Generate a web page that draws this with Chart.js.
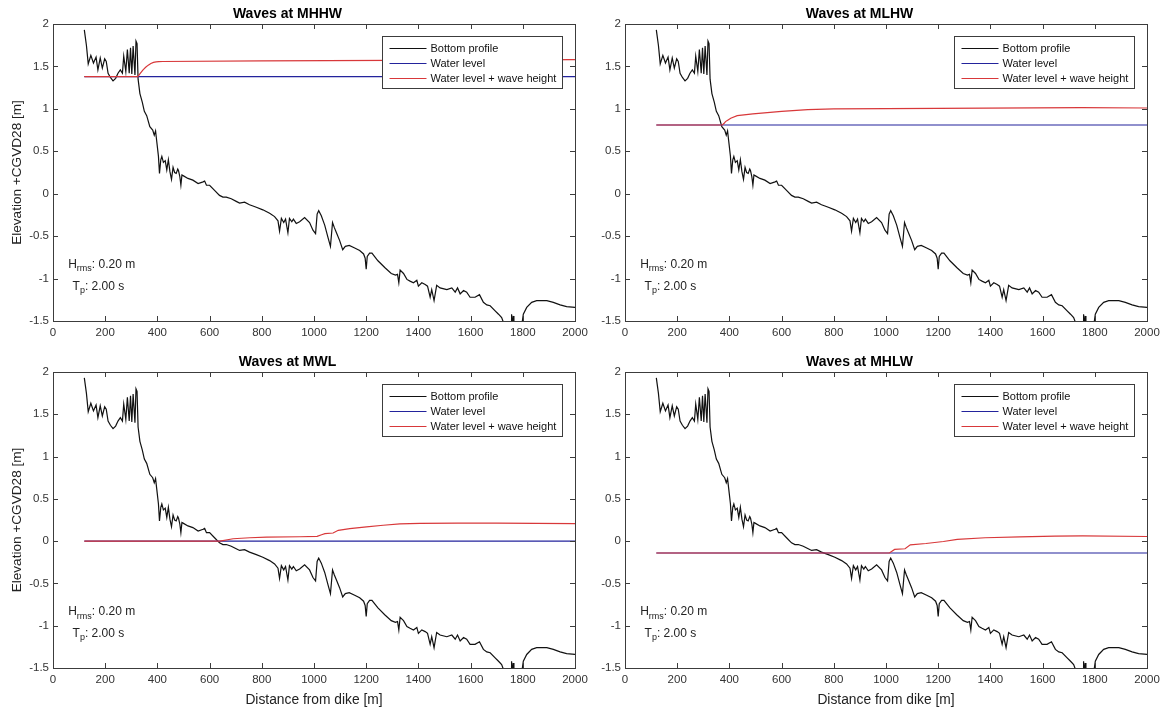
<!DOCTYPE html>
<html>
<head>
<meta charset="utf-8">
<script src="https://cdn.jsdelivr.net/npm/chart.js@4.4.0/dist/chart.umd.min.js"></script>
<style>
body { margin: 0; background: #fff; width: 1163px; height: 711px; overflow: hidden; position: relative; }
canvas { position: absolute; }
</style>
</head>
<body>
<canvas id="c0" width="591" height="341" style="left:0px;top:0px"></canvas>
<canvas id="c1" width="591" height="341" style="left:572px;top:0px"></canvas>
<canvas id="c2" width="591" height="363" style="left:0px;top:348px"></canvas>
<canvas id="c3" width="591" height="363" style="left:572px;top:348px"></canvas>
<script>
console.log("Waves loaded");

/* DATA */
const titles = ['Waves at MHHW', 'Waves at MLHW', 'Waves at MWL', 'Waves at MHLW'];
const seriesNames = ['Bottom profile', 'Water level', 'Water level + wave height'];
const waterLevels = [1.38, 0.81, 0, -0.14];
const levelX = [120, 2000];
const Hrms = 0.20;
const Tp = 2.00;

const profileX = [120, 128, 135, 145, 155, 165, 172, 181, 189, 198, 204, 211, 220, 230, 240, 249, 258, 266, 271, 279,
  285, 292, 297, 302, 307, 314, 318, 322, 326, 333, 342, 350, 359, 371, 382, 388, 393, 397, 404, 408,
  413, 417, 423, 430, 436, 442, 448, 454, 460, 466, 472, 478, 481, 486, 490, 494, 500, 517, 536, 556,
  575, 581, 588, 600, 619, 638, 651, 664, 683, 702, 715, 734, 753, 779, 804, 830, 849, 862, 868, 875,
  884, 891, 900, 906, 915, 921, 932, 945, 964, 983, 996, 1006, 1012, 1018, 1028, 1041, 1054, 1063, 1071, 1078,
  1086, 1098, 1110, 1120, 1135, 1156, 1175, 1190, 1196, 1200, 1204, 1213, 1222, 1245, 1271, 1296, 1312, 1320, 1325, 1330,
  1343, 1356, 1368, 1381, 1394, 1400, 1413, 1426, 1435, 1445, 1451, 1460, 1470, 1483, 1509, 1528, 1541, 1550, 1560, 1573,
  1585, 1598, 1617, 1634, 1649, 1662, 1675, 1694, 1707, 1719, 1730, 1745, 1755, 1757, 1760, 1763, 1766, 1780, 1796, 1802,
  1815, 1834, 1853, 1872, 1892, 1917, 1943, 1968, 2000];
const profileY = [1.93, 1.75, 1.53, 1.63, 1.54, 1.61, 1.46, 1.60, 1.48, 1.59, 1.56, 1.42, 1.37, 1.33, 1.36, 1.42, 1.46, 1.42, 1.62, 1.44,
  1.70, 1.42, 1.72, 1.41, 1.74, 1.40, 1.80, 1.77, 1.35, 1.18, 1.08, 0.97, 0.92, 0.79, 0.75, 0.69, 0.74, 0.63, 0.44, 0.24,
  0.40, 0.44, 0.37, 0.39, 0.28, 0.40, 0.26, 0.17, 0.31, 0.25, 0.24, 0.29, 0.27, 0.20, 0.10, 0.22, 0.21, 0.18, 0.16, 0.12,
  0.14, 0.15, 0.10, 0.10, 0.04, -0.02, -0.04, -0.04, -0.06, -0.09, -0.11, -0.10, -0.13, -0.16, -0.19, -0.23, -0.27, -0.32, -0.44, -0.29,
  -0.34, -0.30, -0.46, -0.29, -0.33, -0.30, -0.35, -0.33, -0.28, -0.34, -0.43, -0.47, -0.24, -0.20, -0.26, -0.37, -0.52, -0.62, -0.34, -0.40,
  -0.46, -0.55, -0.66, -0.62, -0.61, -0.64, -0.67, -0.71, -0.76, -0.89, -0.74, -0.70, -0.70, -0.79, -0.87, -0.94, -0.96, -0.95, -1.05, -0.90,
  -0.94, -1.01, -1.03, -1.05, -1.02, -1.09, -1.05, -1.07, -1.09, -1.22, -1.13, -1.26, -1.08, -1.11, -1.13, -1.11, -1.16, -1.11, -1.18, -1.14,
  -1.16, -1.22, -1.22, -1.19, -1.28, -1.31, -1.32, -1.38, -1.42, -1.46, -1.55, -1.62, -1.60, -1.42, -1.60, -1.44, -1.62, -1.66, -1.55, -1.42,
  -1.34, -1.28, -1.26, -1.26, -1.26, -1.28, -1.31, -1.33, -1.34];

const waveX_MHHW = [120, 325, 330, 335, 345, 355, 365, 375, 385, 395, 405, 420, 800, 1300, 2000];
const waveY_MHHW = [1.38, 1.38, 1.40, 1.42, 1.46, 1.49, 1.515, 1.535, 1.548, 1.553, 1.556, 1.558, 1.565, 1.572, 1.58];
const waveX_MLHW = [120, 373, 380, 385, 395, 405, 430, 490, 600, 700, 800, 1200, 1750, 2000];
const waveY_MLHW = [0.81, 0.81, 0.83, 0.85, 0.87, 0.89, 0.92, 0.94, 0.97, 0.99, 1.0, 1.005, 1.015, 1.01];
const waveX_MWL = [120, 640, 690, 754, 818, 946, 1012, 1029, 1042, 1073, 1093, 1137, 1201, 1265, 1329, 1406, 1550, 1700, 2000];
const waveY_MWL = [0, 0, 0.028, 0.04, 0.048, 0.052, 0.056, 0.076, 0.088, 0.096, 0.128, 0.148, 0.168, 0.188, 0.204, 0.21, 0.212, 0.214, 0.208];
const waveX_MHLW = [120, 1013, 1033, 1073, 1093, 1153, 1220, 1273, 1380, 1513, 1647, 1753, 2000];
const waveY_MHLW = [-0.14, -0.14, -0.098, -0.09, -0.043, -0.028, -0.004, 0.02, 0.04, 0.05, 0.06, 0.063, 0.055];

const waveX = [waveX_MHHW, waveX_MLHW, waveX_MWL, waveX_MHLW];
const waveY = [waveY_MHHW, waveY_MLHW, waveY_MWL, waveY_MHLW];

/* STYLE */
const FONT = '"Liberation Sans", Arial, Helvetica, sans-serif';
const colors = ['#111111', '#23239c', '#d8383a'];
const axisColor = '#3c3c3c';

const toPts = (xs, ys) => xs.map((x, i) => ({ x: x, y: ys[i] }));

/* box with inner ticks on all four sides, like matlab */
const axisBox = {
    id: 'axisBox',
    afterDatasetsDraw(chart) {
        const { ctx, chartArea: a, scales: { x, y } } = chart;
        ctx.save();
        ctx.strokeStyle = axisColor;
        ctx.lineWidth = 1;
        ctx.beginPath();
        x.ticks.forEach(t => {
            const px = Math.round(x.getPixelForValue(t.value)) + 0.5;
            ctx.moveTo(px, a.bottom); ctx.lineTo(px, a.bottom - 5);
            ctx.moveTo(px, a.top); ctx.lineTo(px, a.top + 5);
        });
        y.ticks.forEach(t => {
            const py = Math.round(y.getPixelForValue(t.value)) + 0.5;
            ctx.moveTo(a.left, py); ctx.lineTo(a.left + 5, py);
            ctx.moveTo(a.right, py); ctx.lineTo(a.right - 5, py);
        });
        ctx.stroke();
        ctx.strokeRect(Math.round(a.left) + 0.5, Math.round(a.top) + 0.5,
            Math.round(a.right - a.left), Math.round(a.bottom - a.top));
        ctx.restore();
    }
};

/* H_rms / T_p text */
const infoText = {
    id: 'infoText',
    afterDatasetsDraw(chart) {
        const { ctx, scales: { x, y } } = chart;
        const line = (base, sub, rest, vx, vy) => {
            let px = x.getPixelForValue(vx);
            const py = y.getPixelForValue(vy);
            ctx.font = '12px ' + FONT;
            ctx.fillText(base, px, py);
            px += ctx.measureText(base).width;
            ctx.font = '9px ' + FONT;
            ctx.fillText(sub, px, py + 4);
            px += ctx.measureText(sub).width;
            ctx.font = '12px ' + FONT;
            ctx.fillText(rest, px, py);
        };
        ctx.save();
        ctx.fillStyle = '#222';
        ctx.textBaseline = 'middle';
        line('H', 'rms', ': ' + Hrms.toFixed(2) + ' m', 58, -0.84);
        line('T', 'p', ': ' + Tp.toFixed(2) + ' s', 75, -1.09);
        ctx.restore();
    }
};

/* legend box in the top right corner of the axes */
const boxLegend = {
    id: 'boxLegend',
    afterDraw(chart) {
        const { ctx, chartArea: a } = chart;
        const w = 180, h = 52;
        const bx = Math.round(a.right - 13 - w) + 0.5;
        const by = Math.round(a.top + 12) + 0.5;
        ctx.save();
        ctx.fillStyle = '#fff';
        ctx.fillRect(bx, by, w, h);
        ctx.strokeStyle = axisColor;
        ctx.lineWidth = 1;
        ctx.strokeRect(bx, by, w, h);
        ctx.font = '11px ' + FONT;
        ctx.textBaseline = 'middle';
        chart.data.datasets.forEach((ds, i) => {
            const ly = Math.round(by + 12 + i * 15) - 0.5;
            ctx.strokeStyle = ds.borderColor;
            ctx.beginPath();
            ctx.moveTo(bx + 7, ly);
            ctx.lineTo(bx + 44, ly);
            ctx.stroke();
            ctx.fillStyle = '#111';
            ctx.fillText(ds.label, bx + 48, ly);
        });
        ctx.restore();
    }
};

function makeChart(idx) {
    const isLeft = idx % 2 === 0;
    const isBottom = idx >= 2;
    const ctx = document.getElementById('c' + idx).getContext('2d');

    new Chart(ctx, {
        type: 'scatter',
        data: {
            datasets: [{
                label: seriesNames[0],
                data: toPts(profileX, profileY),
                borderColor: colors[0],
                borderWidth: 1.2,
                order: 3
            }, {
                label: seriesNames[1],
                data: toPts(levelX, [waterLevels[idx], waterLevels[idx]]),
                borderColor: colors[1],
                borderWidth: 1.2,
                order: 2
            }, {
                label: seriesNames[2],
                data: toPts(waveX[idx], waveY[idx]),
                borderColor: colors[2],
                borderWidth: 1.2,
                order: 1
            }].map(ds => Object.assign(ds, { showLine: true, pointRadius: 0, tension: 0, backgroundColor: ds.borderColor }))
        },
        options: {
            responsive: false,
            animation: false,
            events: [],
            layout: { padding: { left: 0, right: 16, top: 0, bottom: 0 } },
            scales: {
                x: {
                    type: 'linear',
                    min: 0,
                    max: 2000,
                    grid: { display: false, drawTicks: false },
                    border: { display: false },
                    ticks: {
                        stepSize: 200,
                        padding: 5,
                        maxRotation: 0,
                        autoSkip: false,
                        color: '#333',
                        font: { family: FONT, size: 11.5 },
                        callback: v => String(v)
                    },
                    title: {
                        display: isBottom,
                        text: 'Distance from dike [m]',
                        color: '#222',
                        font: { family: FONT, size: 13.8 },
                        padding: { top: 0, bottom: 3 }
                    },
                    afterFit: s => {
                        s.height = isBottom ? 43 : 20;
                        s.paddingLeft = 0;
                        s.paddingRight = 0;
                    }
                },
                y: {
                    type: 'linear',
                    min: -1.5,
                    max: 2,
                    grid: { display: false, drawTicks: false },
                    border: { display: false },
                    ticks: {
                        stepSize: 0.5,
                        padding: 4,
                        color: '#333',
                        font: { family: FONT, size: 11.5 },
                        callback: v => String(Math.round(v * 10) / 10)
                    },
                    title: {
                        display: isLeft,
                        text: 'Elevation +CGVD28 [m]',
                        color: '#222',
                        font: { family: FONT, size: 13.6 },
                        padding: { top: 9, bottom: 0 }
                    },
                    afterFit: s => {
                        s.width = 53;
                        s.paddingTop = 0;
                        s.paddingBottom = 0;
                    }
                }
            },
            plugins: {
                legend: { display: false },
                tooltip: { enabled: false },
                title: {
                    display: true,
                    text: titles[idx],
                    color: '#000',
                    font: { family: FONT, size: 14, weight: 'bold' },
                    padding: { top: 6, bottom: 1.2 }
                }
            }
        },
        plugins: [axisBox, infoText, boxLegend]
    });
}

[0, 1, 2, 3].forEach(makeChart);
</script>
</body>
</html>
